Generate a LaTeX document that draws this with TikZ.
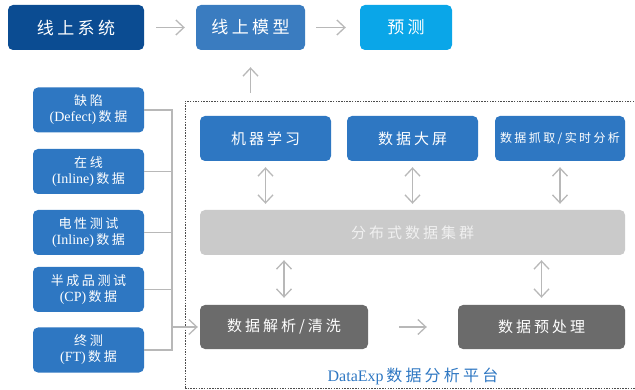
\documentclass[tikz,border=0pt]{standalone}
\usepackage{fontspec}
\setmainfont{Liberation Serif}
\newfontfamily\cjk[LetterSpace=20]{Noto Sans CJK SC}
\usetikzlibrary{arrows.meta}
\definecolor{dblue}{HTML}{0B4C92}
\definecolor{mblue}{HTML}{3A7CC0}
\definecolor{lblue}{HTML}{0AA6E8}
\definecolor{ibl}{HTML}{2E77C2}
\definecolor{lgray}{HTML}{CACACA}
\definecolor{dgray}{HTML}{6B6B6B}
\definecolor{lnc}{HTML}{B8B8B8}
\begin{document}
\begin{tikzpicture}[x=1pt,y=-1pt,
  box/.style={rounded corners=5pt, draw=none, text=white, inner sep=0pt, align=center, minimum height=45pt},
  con/.style={draw=lnc, line width=1.3pt},
  arr/.style={con, -{Straight Barb[length=8pt,width=15pt]}},
  darr/.style={con, {Straight Barb[length=8pt,width=15pt]}-{Straight Barb[length=8pt,width=15pt]}},
  leftbox/.style={box, fill=ibl, minimum width=111pt, font=\fontsize{14}{16}\selectfont}]
\useasboundingbox (0,0) rectangle (635,390);
% top row
\node[box, fill=dblue, minimum width=136pt, font=\fontsize{17}{20}\selectfont] (sys) at (76,27.5) {\cjk 线上系统};
\node[box, fill=mblue, minimum width=109pt, font=\fontsize{17}{20}\selectfont] (model) at (250.5,27.5) {\cjk 线上模型};
\node[box, fill=lblue, minimum width=92pt, font=\fontsize{17}{20}\selectfont] (pred) at (406,27.5) {\cjk 预测};
\draw[arr, shorten <=12pt, shorten >=11pt] (sys) -- (model);
\draw[arr, shorten <=11pt, shorten >=14pt] (model) -- (pred);
% platform frame
\node[draw=black!70, dash pattern=on 1.5pt off 1.2pt, line width=0.6pt, minimum width=455pt, minimum height=287pt, inner sep=0pt] (plat) at (412.5,244.5) {};
\draw[arr, shorten <=8pt, shorten >=17pt] (model.south |- plat.north) -- (model.south);
% inner top
\node[box, fill=ibl, minimum width=131pt, font=\fontsize{15}{18}\selectfont] (ml) at (265.5,138.5) {\cjk 机器学习};
\node[box, fill=ibl, minimum width=131pt, font=\fontsize{15}{18}\selectfont] (dp) at (412.5,138.5) {\cjk 数据大屏};
\node[box, fill=ibl, minimum width=130pt, font=\fontsize{12}{14}\selectfont] (dz) at (560,138.5) {\cjk 数据抓取/实时分析};
% cluster
\node[box, fill=lgray, text=white!94!black, minimum width=425pt, font=\fontsize{15}{18}\selectfont] (clu) at (412.5,232.5) {\cjk 分布式数据集群};
% bottom
\node[box, fill=dgray, minimum width=168pt, minimum height=44pt, font=\fontsize{15}{18}\selectfont] (parse) at (284,327) {\cjk 数据解析/清洗};
\node[box, fill=dgray, minimum width=167pt, minimum height=44pt, font=\fontsize{15}{18}\selectfont] (pre) at (541.5,327) {\cjk 数据预处理};
% double arrows
\draw[darr, shorten <=6pt, shorten >=6pt] (ml.south) -- (ml.south |- clu.north);
\draw[darr, shorten <=6pt, shorten >=6pt] (dp.south) -- (dp.south |- clu.north);
\draw[darr, shorten <=6pt, shorten >=6pt] (dz.south) -- (dz.south |- clu.north);
\draw[darr, shorten <=5pt, shorten >=7pt] (parse.north |- clu.south) -- (parse.north);
\draw[darr, shorten <=5pt, shorten >=7pt] (pre.north |- clu.south) -- (pre.north);
\draw[arr, shorten <=31pt, shorten >=31pt] (parse) -- (pre);
\node[text=ibl, font=\fontsize{16}{18}\selectfont, inner sep=0pt] (lbl) at (413,376) {DataExp\,{\cjk 数据分析平台}};
% left boxes
\node[leftbox] (d1) at (88.5,110) {{\cjk\fontsize{13}{16}\selectfont 缺陷}\\(Defect)\,{\cjk\fontsize{13}{16}\selectfont 数据}};
\node[leftbox] (d2) at (88.5,171.5) {{\cjk\fontsize{13}{16}\selectfont 在线}\\(Inline)\,{\cjk\fontsize{13}{16}\selectfont 数据}};
\node[leftbox] (d3) at (88.5,232.5) {{\cjk\fontsize{13}{16}\selectfont 电性测试}\\(Inline)\,{\cjk\fontsize{13}{16}\selectfont 数据}};
\node[leftbox] (d4) at (88.5,289.5) {{\cjk\fontsize{13}{16}\selectfont 半成品测试}\\(CP)\,{\cjk\fontsize{13}{16}\selectfont 数据}};
\node[leftbox] (d5) at (88.5,350) {{\cjk\fontsize{13}{16}\selectfont 终测}\\(FT)\,{\cjk\fontsize{13}{16}\selectfont 数据}};
\coordinate (bus) at (172,0);
\foreach \n in {d1,d2,d3,d4,d5} {\draw[con] (\n.east) -- (\n.east -| bus);}
\draw[con, line cap=rect] (d1.east -| bus) -- (d5.east -| bus);
\draw[arr, shorten >=2pt] (parse.west -| bus) -- (parse.west);
\end{tikzpicture}
\end{document}
